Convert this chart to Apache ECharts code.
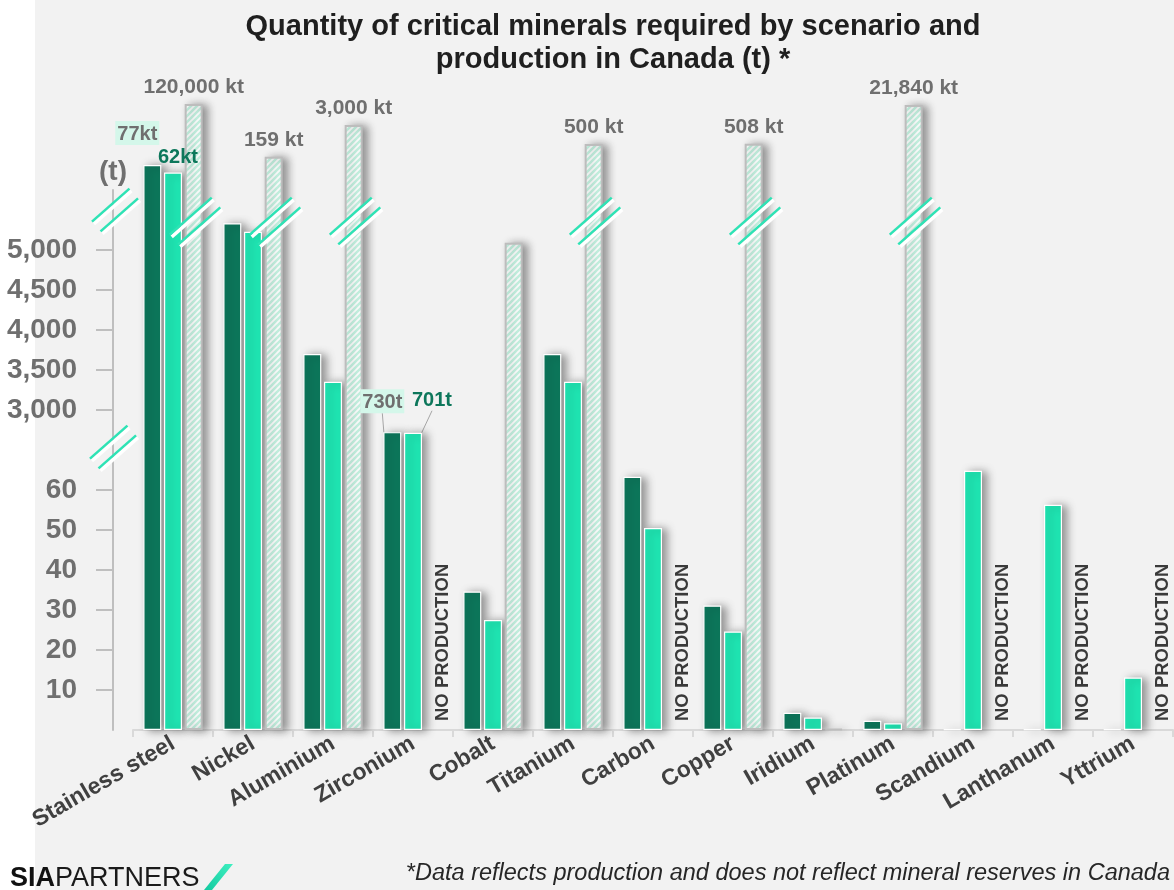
<!DOCTYPE html>
<html>
<head>
<meta charset="utf-8">
<script src="https://cdn.jsdelivr.net/npm/echarts@6/dist/echarts.min.js"></script>
<style>
  html, body { margin: 0; padding: 0; background: #f2f2f2; }
  #chart { width: 1174px; height: 890px; }
</style>
</head>
<body>
<div id="chart"></div>
<script>
const minerals = ['Stainless steel', 'Nickel', 'Aluminium', 'Zirconium', 'Cobalt', 'Titanium',
  'Carbon', 'Copper', 'Iridium', 'Platinum', 'Scandium', 'Lanthanum', 'Yttrium']
// tonnes
const scenarioHigh = [77000, 5334, 3700, 730, 34.6, 3700, 63.3, 31.1, 4.3, 2.3, 0.2, 0.2, 0.2]
const scenarioLow = [62000, 5229, 3354, 701, 27.5, 3354, 50.5, 24.6, 3.1, 1.7, 64.8, 56.3, 13.1]
// null = no production in Canada
const production = [120000000, 159000, 3000000, null, 5090, 500000, null, 508000, 0.3, 21840000, null, null, null]
const lowTicks = [10, 20, 30, 40, 50, 60]
const midTicks = [3000, 3500, 4000, 4500, 5000]

const FONT = '"Liberation Sans", Arial, sans-serif'
const DARK = '#0d775b'
const LIGHT = '#1fe6b3'
const TEAL = '#2ee3b5'
const GRID_LEFT = 133
const AXIS_OFFSET = 20

// broken axis: linear 0-65, squeezed 65-3000, linear 3000-5600, squeezed above
function toAxis(v) {
  if (v <= 65) return v * 4
  if (v <= 3000) return 260 + 60 * Math.log(v / 65) / Math.log(3000 / 65)
  if (v <= 5600) return 320 + 0.08 * (v - 3000)
  const anchors = [[5600, 528], [62000, 557.5], [77000, 565], [500000, 586], [3e6, 605], [2.2e7, 625], [1.2e8, 626]]
  for (let i = 1; i < anchors.length; i++) {
    const [v0, d0] = anchors[i - 1]
    const [v1, d1] = anchors[i]
    if (v <= v1) return d0 + (d1 - d0) * Math.log(v / v0) / Math.log(v1 / v0)
  }
  return 626
}
const offScale = v => v > 5600 || (v > 65 && v < 3000)

const tickLabels = {}
lowTicks.concat(midTicks).forEach(v => { tickLabels[Math.round(toAxis(v))] = v.toLocaleString('en-US') })
const tickValues = lowTicks.concat(midTicks).map(toAxis)

const fmtDemand = v => v >= 1000 ? Math.round(v / 1000) + 'kt' : Math.round(v) + 't'
const fmtProd = v => (v / 1000).toLocaleString('en-US') + ' kt'

// where the callout labels sit relative to their bar top
const labelShift = {
  'Stainless steel': { high: [-15, -15], low: [5, 0] },
  'Zirconium': { high: [-10, -14], low: [19, -17] }
}

function hatch() {
  const c = document.createElement('canvas')
  c.width = 6
  c.height = 6
  const g = c.getContext('2d')
  g.fillStyle = '#c6f4e3'
  g.fillRect(0, 0, 6, 6)
  g.strokeStyle = '#ffffff'
  g.lineWidth = 1.8
  g.beginPath()
  g.moveTo(-1, 1); g.lineTo(1, -1)
  g.moveTo(0, 6); g.lineTo(6, 0)
  g.moveTo(5, 7); g.lineTo(7, 5)
  g.stroke()
  return c
}

const barShadow = {
  shadowColor: 'rgba(0,0,0,0.4)',
  shadowBlur: 8,
  shadowOffsetX: 5,
  shadowOffsetY: 1
}

function demandData(values, which) {
  return values.map((v, i) => {
    const item = { value: toAxis(v) }
    if (offScale(v)) {
      const high = which === 'high'
      item.label = {
        show: true,
        position: 'top',
        distance: 5,
        formatter: fmtDemand(v),
        offset: labelShift[minerals[i]][which],
        color: high ? '#6f6f6f' : DARK,
        backgroundColor: high ? '#d4f7ea' : 'transparent',
        padding: high ? [3, 2, 1, 2] : 0,
        fontSize: 20,
        fontWeight: 'bold',
        fontFamily: FONT
      }
      if (v < 3000) item.labelLine = { show: true, lineStyle: { color: '#a6a6a6', width: 1 } }
    }
    return item
  })
}

const prodData = production.map(v => {
  if (v === null) {
    return {
      value: 0,
      itemStyle: { color: 'transparent', borderWidth: 0, shadowBlur: 0, shadowColor: 'transparent' },
      label: {
        show: true,
        position: 'insideBottom',
        distance: 10,
        rotate: 90,
        align: 'left',
        verticalAlign: 'middle',
        offset: [-1, 9],
        formatter: 'NO PRODUCTION',
        color: '#3a3a3a',
        fontSize: 18.5,
        fontWeight: 'bold',
        fontFamily: FONT
      }
    }
  }
  const item = { value: toAxis(v) }
  if (v > 5600) {
    item.label = {
      show: true,
      position: 'top',
      distance: 6,
      formatter: fmtProd(v),
      color: '#6f6f6f',
      fontSize: 21,
      fontWeight: 'bold',
      fontFamily: FONT
    }
  }
  return item
})

const chart = echarts.init(document.getElementById('chart'))

const option = {
  backgroundColor: '#f2f2f2',
  animation: false,
  title: {
    text: 'Quantity of critical minerals required by scenario and\nproduction in Canada (t) *',
    left: 608,
    textAlign: 'center',
    top: 5,
    textStyle: { fontSize: 29, fontWeight: 'bold', color: '#1f1f1f', lineHeight: 33, fontFamily: FONT }
  },
  grid: { left: GRID_LEFT, right: 1, top: 190, bottom: 160 },
  xAxis: {
    type: 'category',
    data: minerals,
    axisLine: { lineStyle: { color: '#d9d9d9', width: 2 } },
    axisTick: { show: true, length: 7, lineStyle: { color: '#d9d9d9', width: 2 } },
    axisLabel: { rotate: 30, margin: 12, color: '#404040', fontSize: 23, fontWeight: 'bold', fontFamily: FONT, interval: 0 }
  },
  yAxis: {
    type: 'value',
    min: 0,
    max: 540,
    offset: AXIS_OFFSET,
    name: '(t)',
    nameLocation: 'end',
    nameGap: 4,
    nameTextStyle: { color: '#6f6f6f', fontSize: 28, fontWeight: 'bold', fontFamily: FONT },
    axisLine: { show: true, lineStyle: { color: '#bfbfbf', width: 2 } },
    axisTick: { show: true, length: 17, customValues: tickValues, lineStyle: { color: '#bfbfbf', width: 2 } },
    axisLabel: {
      customValues: tickValues,
      margin: 36,
      color: '#6f6f6f',
      fontSize: 28,
      fontWeight: 'bold',
      fontFamily: FONT,
      formatter: v => tickLabels[Math.round(v)] || ''
    },
    splitLine: { show: false }
  },
  series: [
    {
      name: 'Scenario high',
      type: 'bar',
      clip: false,
      barWidth: 18,
      barGap: '15%',
      itemStyle: Object.assign({ color: DARK, borderColor: '#ffffff', borderWidth: 1.2 }, barShadow),
      data: demandData(scenarioHigh, 'high')
    },
    {
      name: 'Scenario low',
      type: 'bar',
      clip: false,
      barWidth: 18,
      barGap: '15%',
      itemStyle: Object.assign({ color: LIGHT, borderColor: '#ffffff', borderWidth: 1.2 }, barShadow),
      data: demandData(scenarioLow, 'low')
    },
    {
      name: 'Production',
      type: 'bar',
      clip: false,
      barWidth: 18,
      barGap: '15%',
      itemStyle: Object.assign({ color: { image: hatch(), repeat: 'repeat' }, borderColor: '#bdbdbd', borderWidth: 2 }, barShadow),
      data: prodData
    }
  ]
}

chart.setOption(option)

// break marks: two slashes, each a teal stroke with a white band under it
function breakMark(cx, cy, half) {
  const dx = 0.75, dy = -0.66
  const nx = 0.66, ny = 0.75
  const parts = []
  ;[-6.5, 6.5].forEach(s => {
    ;[[s + 3, '#ffffff', 3.5], [s, TEAL, 2.5]].forEach(([o, color, w]) => {
      const ox = cx + nx * o, oy = cy + ny * o
      parts.push({
        type: 'line',
        z: 20,
        shape: { x1: ox - dx * half, y1: oy - dy * half, x2: ox + dx * half, y2: oy + dy * half },
        style: { stroke: color, lineWidth: w }
      })
    })
  })
  return parts
}

const graphics = [
  { type: 'rect', z: -10, left: 0, top: 0, shape: { width: 35, height: 890 }, style: { fill: '#ffffff' } },
  {
    type: 'text', left: 10, top: 865,
    style: {
      text: '{a|SIA}{b|PARTNERS}',
      rich: {
        a: { font: 'bold 27px ' + FONT, fill: '#111111' },
        b: { font: '500 27px ' + FONT, fill: '#1a1a1a' }
      }
    }
  },
  {
    type: 'polygon',
    shape: { points: [[204, 890], [212, 890], [233, 864], [225, 864]] },
    style: { fill: new echarts.graphic.LinearGradient(0, 1, 1, 0, [{ offset: 0, color: '#13c9a0' }, { offset: 1, color: '#3ff0c0' }]) }
  },
  {
    type: 'text', right: 4, top: 862,
    style: { text: '*Data reflects production and does not reflect mineral reserves in Canada', font: 'italic 23.5px ' + FONT, fill: '#262626' }
  }
]

const axisX = GRID_LEFT - AXIS_OFFSET
graphics.push(...breakMark(axisX + 2, chart.convertToPixel({ yAxisIndex: 0 }, 520), 25))
graphics.push(...breakMark(axisX, chart.convertToPixel({ yAxisIndex: 0 }, 283), 25))
production.forEach((v, i) => {
  if (v !== null && v > 5600) {
    const x = chart.convertToPixel({ xAxisIndex: 0 }, i) + 22
    const y = chart.convertToPixel({ yAxisIndex: 0 }, 509)
    graphics.push(...breakMark(x, y, 28))
  }
})

chart.setOption({ graphic: graphics })
</script>
</body>
</html>
